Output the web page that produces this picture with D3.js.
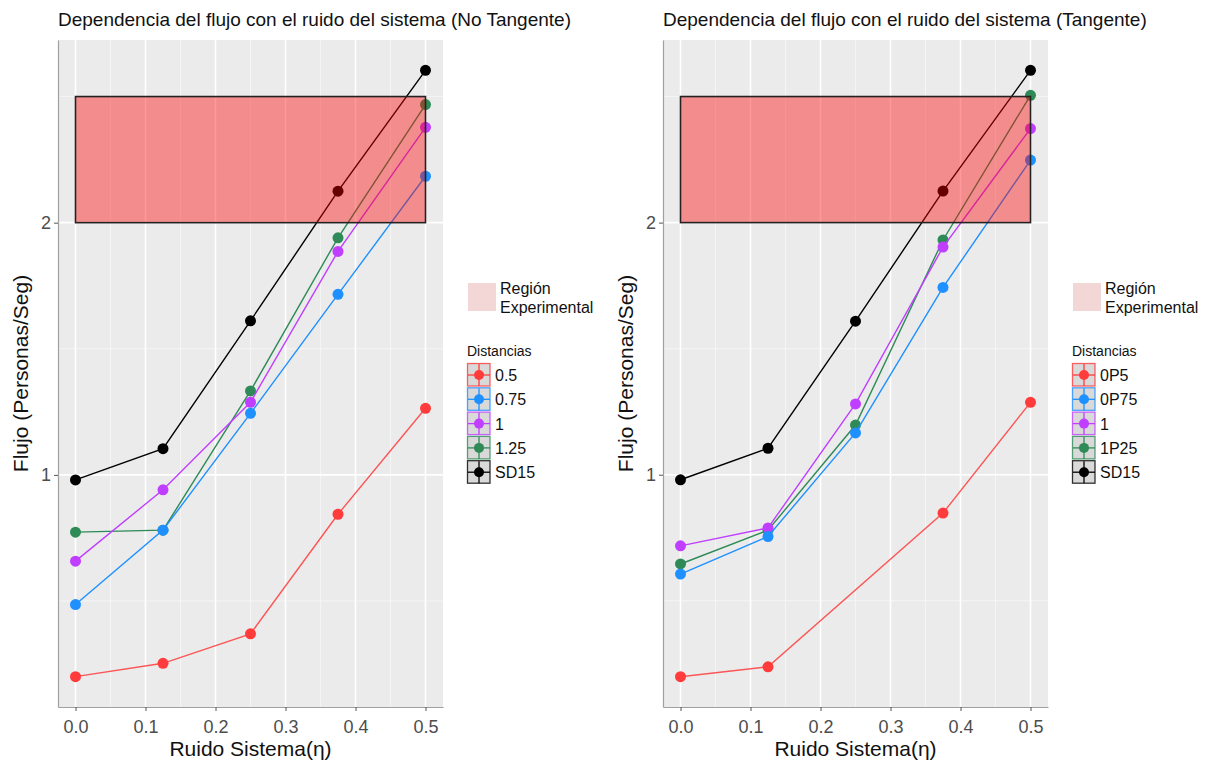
<!DOCTYPE html>
<html><head><meta charset="utf-8">
<script src="https://cdn.jsdelivr.net/npm/d3@7"></script>
<style>body{margin:0;background:#fff;} text{font-family:"Liberation Sans",Arial,sans-serif;}</style>
</head><body>
<svg id="chart" width="1206" height="763"></svg>
<script>
// ---- data ----
const noise = [0, 0.125, 0.25, 0.375, 0.5];
const xTicks = [0, 0.1, 0.2, 0.3, 0.4, 0.5];
const yTicks = [1, 2];
const titles = ["Dependencia del flujo con el ruido del sistema (No Tangente)",
                "Dependencia del flujo con el ruido del sistema (Tangente)"];
const labelsLeft = ["0.5", "0.75", "1", "1.25", "SD15"];
const labelsRight = ["0P5", "0P75", "1", "1P25", "SD15"];
const seriesColors = ["#ff3b3b", "#1e90ff", "#bf3eff", "#2e8b57", "#000000"];
// left (No Tangente)
const left05   = [0.200, 0.253, 0.370, 0.844, 1.264];
const left075  = [0.486, 0.781, 1.244, 1.716, 2.184];
const left1    = [0.658, 0.941, 1.288, 1.886, 2.378];
const left125  = [0.773, 0.781, 1.333, 1.940, 2.468];
const leftSD15 = [0.980, 1.104, 1.611, 2.125, 2.604];
// right (Tangente)
const right0P5  = [0.199, 0.238, null, 0.848, 1.287];
const right0P75 = [0.606, 0.755, 1.166, 1.743, 2.248];
const right1    = [0.718, 0.789, 1.281, 1.903, 2.373];
const right1P25 = [0.646, 0.780, 1.197, 1.931, 2.505];
const rightSD15 = [0.980, 1.105, 1.609, 2.125, 2.604];
// experimental region
const regionX = [0, 0.5];
const regionY = [2.0, 2.5];
const regionLabel = ["Región", "Experimental"];
const legendTitle = "Distancias";
const xLabel = "Ruido Sistema(η)";
const yLabel = "Flujo (Personas/Seg)";

const svg = d3.select("#chart");

function panel(ox, title, series, labels) {
  const L = ox + 58, R = ox + 443, T = 40, B = 707;
  const allVals = series.flat().filter(v => v != null).concat(regionY);
  const ymin = d3.min(allVals), ymax = d3.max(allVals);
  const ypad = (ymax - ymin) * 0.05;
  const x = d3.scaleLinear().domain([-0.025, 0.525]).range([L, R]);
  const y = d3.scaleLinear().domain([ymin - ypad, ymax + ypad]).range([B, T]);
  const g = svg.append("g");
  g.append("rect").attr("x", L).attr("y", T).attr("width", R - L).attr("height", B - T).attr("fill", "#ebebeb");
  // minor grid
  const xMinor = d3.range(0.05, 0.5, 0.1);
  const yMinor = [0.5, 1.5, 2.5];
  g.selectAll(".xm").data(xMinor).join("line").attr("x1", d => x(d)).attr("x2", d => x(d)).attr("y1", T).attr("y2", B)
    .attr("stroke", "#f5f5f5").attr("stroke-width", 1);
  g.selectAll(".ym").data(yMinor).join("line").attr("y1", d => y(d)).attr("y2", d => y(d)).attr("x1", L).attr("x2", R)
    .attr("stroke", "#f5f5f5").attr("stroke-width", 1);
  g.selectAll(".xg").data(xTicks).join("line").attr("x1", d => x(d)).attr("x2", d => x(d)).attr("y1", T).attr("y2", B)
    .attr("stroke", "#fff").attr("stroke-width", 1.6);
  g.selectAll(".yg").data(yTicks).join("line").attr("y1", d => y(d)).attr("y2", d => y(d)).attr("x1", L).attr("x2", R)
    .attr("stroke", "#fff").attr("stroke-width", 1.6);
  // axes
  const xa = g.append("g").attr("transform", `translate(0,${B})`)
    .call(d3.axisBottom(x).tickValues(xTicks).tickFormat(d3.format(".1f")).tickSize(4).tickSizeOuter(0));
  const ya = g.append("g").attr("transform", `translate(${L},0)`)
    .call(d3.axisLeft(y).tickValues(yTicks).tickFormat(d3.format("d")).tickSize(4).tickSizeOuter(0));
  [xa, ya].forEach(a => {
    a.select(".domain").attr("stroke", "#a0a0a0").attr("stroke-width", 1.2);
    a.selectAll(".tick line").attr("stroke", "#555");
    a.selectAll(".tick text").attr("fill", "#4d4d4d").attr("font-size", 18).attr("font-family", "Liberation Sans, Arial, sans-serif");
  });
  xa.selectAll(".tick text").attr("dy", "1.05em");
  // series
  const line = d3.line().x(d => x(d[0])).y(d => y(d[1]));
  const order = [4, 3, 2, 1, 0];
  order.forEach(i => {
    const pts = noise.map((n, j) => [n, series[i][j]]).filter(d => d[1] != null);
    g.append("path").datum(pts).attr("d", line).attr("fill", "none")
      .attr("stroke", seriesColors[i]).attr("stroke-width", 1.4).attr("stroke-opacity", i === 0 ? 0.85 : 1);
    g.selectAll(null).data(pts).join("circle")
      .attr("cx", d => x(d[0])).attr("cy", d => y(d[1])).attr("r", 5.5).attr("fill", seriesColors[i]);
  });
  // region rect on top
  g.append("rect").attr("x", x(regionX[0])).attr("y", y(regionY[1]))
    .attr("width", x(regionX[1]) - x(regionX[0])).attr("height", y(regionY[0]) - y(regionY[1]))
    .attr("fill", "red").attr("fill-opacity", 0.4).attr("stroke", "#222").attr("stroke-width", 1.6);
  // title
  g.append("text").attr("x", L).attr("y", 26).attr("font-size", 19).attr("fill", "#111").text(title);
  g.append("text").attr("x", (L + R) / 2).attr("y", 756).attr("text-anchor", "middle").attr("font-size", 21).attr("fill", "#111").text(xLabel);
  g.append("text").attr("transform", `translate(${ox + 28},${(T + B) / 2}) rotate(-90)`).attr("text-anchor", "middle")
    .attr("font-size", 21).attr("fill", "#111").text(yLabel);
  // legend
  const lx = ox + 467;
  g.append("rect").attr("x", lx + 1).attr("y", 283).attr("width", 28).attr("height", 28).attr("fill", "#f3d7d7");
  g.append("text").attr("x", lx + 33).attr("y", 294).attr("font-size", 16).attr("fill", "#111").text(regionLabel[0]);
  g.append("text").attr("x", lx + 33).attr("y", 313).attr("font-size", 16).attr("fill", "#111").text(regionLabel[1]);
  g.append("text").attr("x", lx).attr("y", 356).attr("font-size", 14).attr("fill", "#111").text(legendTitle);
  labels.forEach((lab, i) => {
    const ky = 363 + i * 24.3;
    const c = seriesColors[i];
    g.append("rect").attr("x", lx + 0.5).attr("y", ky + 0.5).attr("width", 22.5).attr("height", 22.5)
      .attr("fill", "#d9d9d9").attr("stroke", c).attr("stroke-width", 1.3).attr("stroke-opacity", 0.8);
    g.append("line").attr("x1", lx + 1).attr("x2", lx + 23).attr("y1", ky + 12).attr("y2", ky + 12).attr("stroke", c).attr("stroke-width", 1.3);
    g.append("line").attr("x1", lx + 12).attr("x2", lx + 12).attr("y1", ky + 1).attr("y2", ky + 23).attr("stroke", c).attr("stroke-width", 1.3);
    g.append("circle").attr("cx", lx + 12).attr("cy", ky + 12).attr("r", 5).attr("fill", c);
    g.append("text").attr("x", lx + 28).attr("y", ky + 18).attr("font-size", 16).attr("fill", "#111").text(lab);
  });
}

panel(0, titles[0], [left05, left075, left1, left125, leftSD15], labelsLeft);
panel(605, titles[1], [right0P5, right0P75, right1, right1P25, rightSD15], labelsRight);
</script>
</body></html>
